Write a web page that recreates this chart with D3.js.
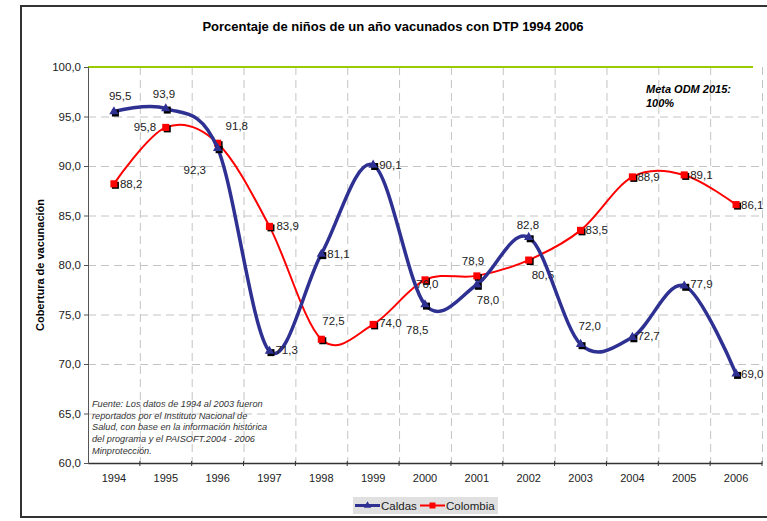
<!DOCTYPE html>
<html>
<head>
<meta charset="utf-8">
<script src="https://cdn.jsdelivr.net/npm/d3@7"></script>
<style>
  body { margin: 0; background: #fff; }
  svg { display: block; font-family: "Liberation Sans", Arial, sans-serif; }
</style>
</head>
<body>
<div id="chart"></div>
<script>
// ---------- Data ----------
const years = ['1994', '1995', '1996', '1997', '1998', '1999', '2000', '2001', '2002', '2003', '2004', '2005', '2006'];
const caldas = [95.5, 95.8, 91.8, 71.3, 81.1, 90.1, 76.0, 78.0, 82.8, 72.0, 72.7, 77.9, 69.0];
const colombia = [88.2, 93.9, 92.3, 83.9, 72.5, 74.0, 78.5, 78.9, 80.5, 83.5, 88.9, 89.1, 86.1];
const yTicks = [60, 65, 70, 75, 80, 85, 90, 95, 100];
const meta = 100;

// label placement (dx, dy from the marker), as the labels were dragged in the original
const caldasLabelPos = [[-5, -12], [-32, 22], [8, -18], [6, 3], [6, 4], [6, 4], [-9, -17], [0, 19], [-12, -8], [-2, -14], [5, 3], [6, 2], [5, 4]];
const colombiaLabelPos = [[6, 4], [-13, -29], [-34, 31], [7, 4], [1, -14], [6, 3], [-19, 54], [-15, -11], [3, 19], [5, 4], [5, 4], [6, 4], [5, 4]];

const fmt = v => d3.format('.1f')(v).replace('.', ',');

// ---------- Setup ----------
const W = 767, H = 521;
const svg = d3.select('#chart').append('svg').attr('width', W).attr('height', H);

// outer frame
svg.append('rect')
    .attr('x', 21).attr('y', 6)
    .attr('width', 770).attr('height', 511)
    .attr('fill', '#fff')
    .attr('stroke', '#333').attr('stroke-width', 2);

const pLeft = 88, pRight = 762, pTop = 67, pBottom = 463;

const x = d3.scaleBand().domain(years).range([pLeft, pRight]);
const cx = d => x(d) + x.bandwidth() / 2;
const y = d3.scaleLinear().domain([60, 100]).range([pBottom, pTop]);

// ---------- Grid ----------
const grid = svg.append('g').attr('stroke', '#c4c4c4').attr('stroke-dasharray', '8,5').attr('stroke-width', 1);
grid.selectAll('line.h')
    .data(yTicks.filter(t => t > 60 && t < 100))
    .join('line')
    .attr('class', 'h')
    .attr('x1', pLeft).attr('x2', pRight)
    .attr('y1', d => y(d) + 0.5).attr('y2', d => y(d) + 0.5);
grid.selectAll('line.v')
    .data(years.slice(1).concat(['end']))
    .join('line')
    .attr('class', 'v')
    .attr('x1', d => (d === 'end' ? pRight : x(d)) + 0.5)
    .attr('x2', d => (d === 'end' ? pRight : x(d)) + 0.5)
    .attr('y1', pTop).attr('y2', pBottom);

// meta line
svg.append('line')
    .attr('x1', pLeft).attr('x2', 753)
    .attr('y1', y(meta)).attr('y2', y(meta))
    .attr('stroke', '#99cc00').attr('stroke-width', 2);

// ---------- Axes ----------
const yAxis = svg.append('g')
    .attr('transform', `translate(${pLeft},0)`)
    .call(d3.axisLeft(y).tickValues(yTicks).tickFormat(fmt).tickSize(4).tickPadding(3));
yAxis.select('.domain').attr('stroke', '#555');
yAxis.selectAll('.tick line').attr('stroke', '#555');
yAxis.selectAll('text').attr('font-size', 11.5).attr('fill', '#222');

const xAxis = svg.append('g')
    .attr('transform', `translate(0,${pBottom})`)
    .call(d3.axisBottom(x).tickSize(0).tickPadding(11));
xAxis.select('.domain').attr('stroke', '#333').attr('stroke-width', 1.5);
xAxis.selectAll('text').attr('font-size', 11).attr('fill', '#222');
xAxis.selectAll('line.bt')
    .data(years.slice(1).concat(['end']))
    .join('line')
    .attr('class', 'bt')
    .attr('x1', d => d === 'end' ? pRight : x(d))
    .attr('x2', d => d === 'end' ? pRight : x(d))
    .attr('y1', -2).attr('y2', 3)
    .attr('stroke', '#333');

// ---------- Titles ----------
svg.append('text')
    .attr('x', 393).attr('y', 31)
    .attr('text-anchor', 'middle')
    .attr('font-size', 13).attr('font-weight', 'bold')
    .text('Porcentaje de niños de un año vacunados con DTP 1994 2006');

svg.append('text')
    .attr('transform', `translate(44,${(pTop + pBottom) / 2}) rotate(-90)`)
    .attr('text-anchor', 'middle')
    .attr('font-size', 11).attr('font-weight', 'bold')
    .text('Cobertura de vacunación');

const metaText = svg.append('text')
    .attr('x', 646).attr('y', 93)
    .attr('font-size', 11).attr('font-weight', 'bold').attr('font-style', 'italic');
metaText.append('tspan').attr('x', 646).text('Meta ODM 2015:');
metaText.append('tspan').attr('x', 646).attr('dy', 14).text('100%');

const note = ['Fuente: Los datos de 1994 al 2003 fueron', 'reportados por el Instituto Nacional de',
    'Salud, con base en la información histórica', 'del programa y el PAISOFT.2004 - 2006', 'Minprotección.'];
svg.append('g').selectAll('text')
    .data(note)
    .join('text')
    .attr('x', 92).attr('y', (d, i) => 407 + i * 11.7)
    .attr('font-size', 9.2).attr('font-style', 'italic').attr('fill', '#333')
    .text(d => d);

// ---------- Series ----------
const line = d3.line()
    .x((d, i) => cx(years[i]))
    .y(d => y(d))
    .curve(d3.curveCardinal.tension(0));

function drawSeries(values, color, width, shape, labelPos) {
    const g = svg.append('g');
    g.append('path')
        .datum(values)
        .attr('d', line)
        .attr('fill', 'none')
        .attr('stroke', color)
        .attr('stroke-width', width);

    // black shadow square behind each marker
    g.selectAll('rect.sh')
        .data(values)
        .join('rect')
        .attr('class', 'sh')
        .attr('x', (d, i) => cx(years[i]) - 2)
        .attr('y', d => y(d) - 2)
        .attr('width', 7).attr('height', 7)
        .attr('fill', '#000');

    const sym = d3.symbol().type(shape).size(shape === d3.symbolTriangle ? 38 : 50);
    g.selectAll('path.m')
        .data(values)
        .join('path')
        .attr('class', 'm')
        .attr('transform', (d, i) => `translate(${cx(years[i])},${y(d)})`)
        .attr('d', sym)
        .attr('fill', color);

    g.selectAll('text')
        .data(values)
        .join('text')
        .attr('x', (d, i) => cx(years[i]) + labelPos[i][0])
        .attr('y', (d, i) => y(d) + labelPos[i][1])
        .attr('font-size', 11.5).attr('fill', '#222')
        .text(fmt);
}

drawSeries(colombia, '#ff0000', 2, d3.symbolSquare, colombiaLabelPos);
drawSeries(caldas, '#2e3192', 3.5, d3.symbolTriangle, caldasLabelPos);

// ---------- Legend ----------
const lg = svg.append('g');
lg.append('rect')
    .attr('x', 353).attr('y', 497).attr('width', 145).attr('height', 17)
    .attr('fill', '#e0e0e0');
const legendItems = [
    { name: 'Caldas', color: '#2e3192', shape: d3.symbolTriangle, w: 3, x0: 355 },
    { name: 'Colombia', color: '#ff0000', shape: d3.symbolSquare, w: 2, x0: 420 }
];
legendItems.forEach(it => {
    lg.append('line')
        .attr('x1', it.x0).attr('x2', it.x0 + 25)
        .attr('y1', 505.5).attr('y2', 505.5)
        .attr('stroke', it.color).attr('stroke-width', it.w);
    lg.append('path')
        .attr('transform', `translate(${it.x0 + 12.5},505.5)`)
        .attr('d', d3.symbol().type(it.shape).size(it.shape === d3.symbolTriangle ? 24 : 36))
        .attr('fill', it.color);
    lg.append('text')
        .attr('x', it.x0 + 26).attr('y', 510)
        .attr('font-size', 11.5).attr('fill', '#222')
        .text(it.name);
});
</script>
</body>
</html>
